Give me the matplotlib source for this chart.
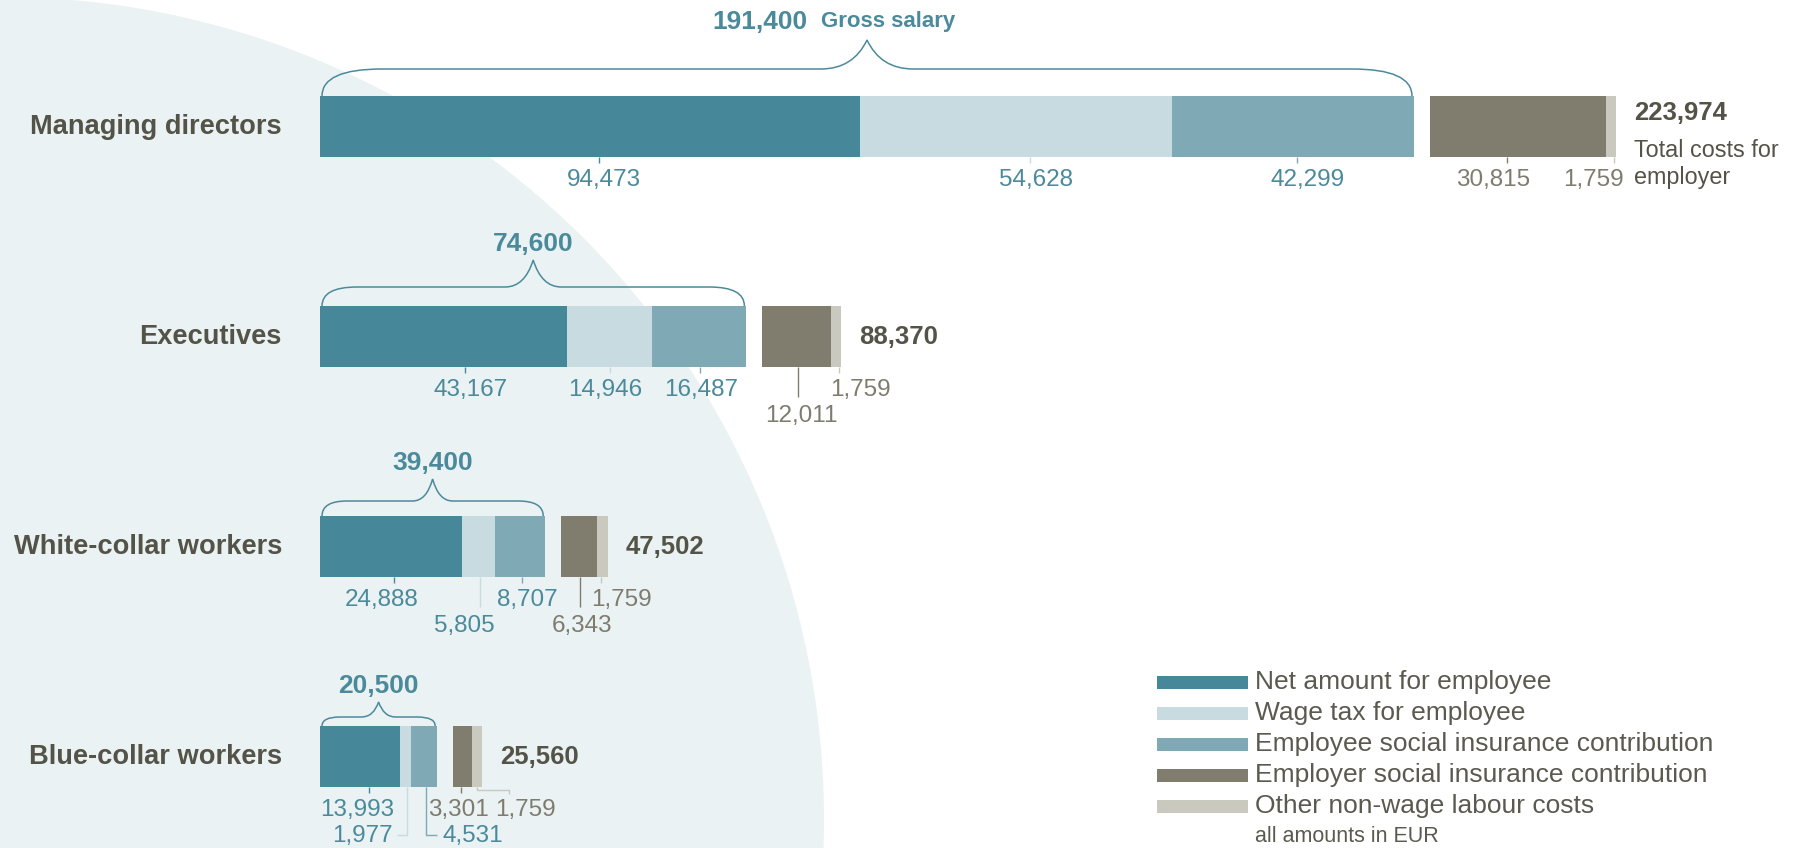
import numpy as np
import matplotlib.pyplot as plt
from matplotlib.patches import Circle, Rectangle, PathPatch
from matplotlib.path import Path

categories = ['Managing directors', 'Executives', 'White-collar workers', 'Blue-collar workers']
net_amount = [94473, 43167, 24888, 13993]
wage_tax = [54628, 14946, 5805, 1977]
employee_si = [42299, 16487, 8707, 4531]
employer_si = [30815, 12011, 6343, 3301]
other_costs = [1759, 1759, 1759, 1759]
gross_salary = [191400, 74600, 39400, 20500]
total_costs = [223974, 88370, 47502, 25560]

series_names = ['Net amount for employee', 'Wage tax for employee',
                'Employee social insurance contribution',
                'Employer social insurance contribution',
                'Other non-wage labour costs']
colors = ['#46879a', '#c8dbe1', '#80a9b6', '#807d6f', '#cac9bf']
TEAL = '#4b8a9b'
GREY = '#7f7c6e'
DARK = '#545347'
FONT = 'Liberation Sans'

# pixel layout
W, H = 1803, 848
X0 = 320                    # px where 0 EUR sits
SX = 1094 / 191400          # px per EUR
ROW0, ROWSTEP = 126.5, 210  # first row centre, row pitch (px)
BAR_H = 61
GAP = 16

# per label: tick offset, leader kind, label offset, alignment, label line
label_specs = [
    [(9, 'short', 5, 'center', 1), (14, 'short', 6, 'center', 1), (4, 'short', 10, 'center', 1),
     (-11, 'short', -14, 'center', 1), (3, 'short', 10, 'right', 1)],
    [(22, 'short', 5, 'center', 1), (1, 'short', -5, 'center', 1), (1, 'short', 1, 'center', 1),
     (1, 'long', 4, 'center', 2), (3, 'short', -9, 'left', 1)],
    [(3, 'short', -13, 'center', 1), (1, 'long', -16, 'center', 2), (2, 'short', 5, 'center', 1),
     (1, 'long', 2, 'center', 2), (-1, 'short', -10, 'left', 1)],
    [(9, 'short', -12, 'center', 1), (1, 'left', -14, 'right', 2), (2, 'right', 16, 'left', 2),
     (-2, 'short', -2, 'center', 1), (0, 'jog', 48, 'center', 1)],
]
# brace: rise above bar, peak height, curl width, peak half width (px)
brace_specs = [(27, 29, 60, 46), (19, 27, 35, 28), (15, 22, 25, 20), (9, 15, 18, 17)]

fig = plt.figure(figsize=(W / 100, H / 100), dpi=100)

bg = fig.add_axes([0, 0, 1, 1])
bg.set_xlim(0, W)
bg.set_ylim(H, 0)
bg.axis('off')
bg.add_patch(Circle((2, 819), 822, color='#eaf2f4', lw=0))

ax = fig.add_axes([0, 0, 1, 1])
ax.patch.set_alpha(0)
ax.axis('off')
ax.set_xlim(-X0 / SX, (W - X0) / SX)
ax.set_ylim((H - ROW0) / ROWSTEP, -ROW0 / ROWSTEP)


def hx(px):
    return px / SX


def vy(px):
    return px / ROWSTEP


rows = np.arange(len(categories))
series = [net_amount, wage_tax, employee_si, employer_si, other_costs]
left = np.zeros(len(rows))
centers = []
for k, vals in enumerate(series):
    if k == 3:
        gross_end = left.copy()
        left = left + hx(GAP)
    vals = np.array(vals, dtype=float)
    ax.barh(rows, vals, left=left, height=vy(BAR_H), color=colors[k], lw=0)
    centers.append(left + vals / 2)
    left = left + vals
bar_end = left

# category names
for i, name in enumerate(categories):
    ax.text(-hx(38), i, name, ha='right', va='center', fontsize=19.6,
            family=FONT, weight='bold', color=DARK)

# value labels with leader lines
for i in rows:
    bb = i + vy(BAR_H) / 2
    for k, vals in enumerate(series):
        tdx, kind, ldx, ha, level = label_specs[i][k]
        x = centers[k][i] + hx(tdx)
        if kind == 'short':
            xs, ys = [x, x], [bb, bb + vy(6)]
        elif kind == 'long':
            xs, ys = [x, x], [bb, bb + vy(30)]
        elif kind == 'left':
            xs, ys = [x, x, x - hx(10)], [bb, bb + vy(48), bb + vy(48)]
        elif kind == 'right':
            xs, ys = [x, x, x + hx(11)], [bb, bb + vy(48), bb + vy(48)]
        else:
            xs = [x, x, x + hx(32), x + hx(32)]
            ys = [bb, bb + vy(3), bb + vy(3), bb + vy(7)]
        ax.plot(xs, ys, color=colors[k], lw=1, solid_capstyle='butt')
        ly = bb + vy(23 if level == 1 else 49)
        ax.text(x + hx(ldx), ly, f'{vals[i]:,}', ha=ha, va='center',
                fontsize=17.5, family=FONT, color=TEAL if k < 3 else GREY)

# braces over the gross salary
for i in rows:
    rise, peak, curl, half = brace_specs[i]
    x0, x1 = hx(2), gross_end[i] - hx(2)
    xc = (x0 + x1) / 2
    yb = i - vy(BAR_H) / 2
    yh = yb - vy(rise)
    yp = yh - vy(peak)
    verts = [(x0, yb), (x0, yh), (x0 + hx(curl), yh),
             (xc - hx(half), yh),
             (xc - hx(half * 0.3), yh), (xc, yp),
             (xc + hx(half * 0.3), yh), (xc + hx(half), yh),
             (x1 - hx(curl), yh),
             (x1, yh), (x1, yb)]
    codes = [Path.MOVETO, Path.CURVE3, Path.CURVE3, Path.LINETO,
             Path.CURVE3, Path.CURVE3, Path.CURVE3, Path.CURVE3,
             Path.LINETO, Path.CURVE3, Path.CURVE3]
    ax.add_patch(PathPatch(Path(verts, codes), fill=False, ec=TEAL, lw=1.1))
    if i == 0:
        ax.text(xc - hx(60), yp - vy(18), f'{gross_salary[i]:,}', ha='right', va='center',
                fontsize=19, family=FONT, weight='bold', color=TEAL)
        ax.text(xc - hx(46), yp - vy(18), 'Gross salary', ha='left', va='center',
                fontsize=16, family=FONT, weight='bold', color=TEAL)
    else:
        ax.text(xc, yp - vy(16), f'{gross_salary[i]:,}', ha='center', va='center',
                fontsize=19, family=FONT, weight='bold', color=TEAL)

# totals for the employer
for i in rows:
    y = i - vy(13.5) if i == 0 else i
    ax.text(bar_end[i] + hx(18), y, f'{total_costs[i]:,}', ha='left', va='center',
            fontsize=18.5, family=FONT, weight='bold', color=DARK)
ax.text(bar_end[0] + hx(18), vy(30.5), 'Total costs for', ha='left', va='baseline',
        fontsize=16.8, family=FONT, color=DARK)
ax.text(bar_end[0] + hx(18), vy(57.5), 'employer', ha='left', va='baseline',
        fontsize=16.8, family=FONT, color=DARK)

# legend
for j, name in enumerate(series_names):
    yc = 682 + j * 31
    bg.add_patch(Rectangle((1157, yc - 6.5), 91, 13, color=colors[j], lw=0))
    bg.text(1255, yc, name, ha='left', va='center', fontsize=19, family=FONT,
            color='#5b5a50')
bg.text(1255, 837, 'all amounts in EUR', ha='left', va='center', fontsize=15.5,
        family=FONT, color='#5b5a50')

fig.savefig('out.png', dpi=100)
